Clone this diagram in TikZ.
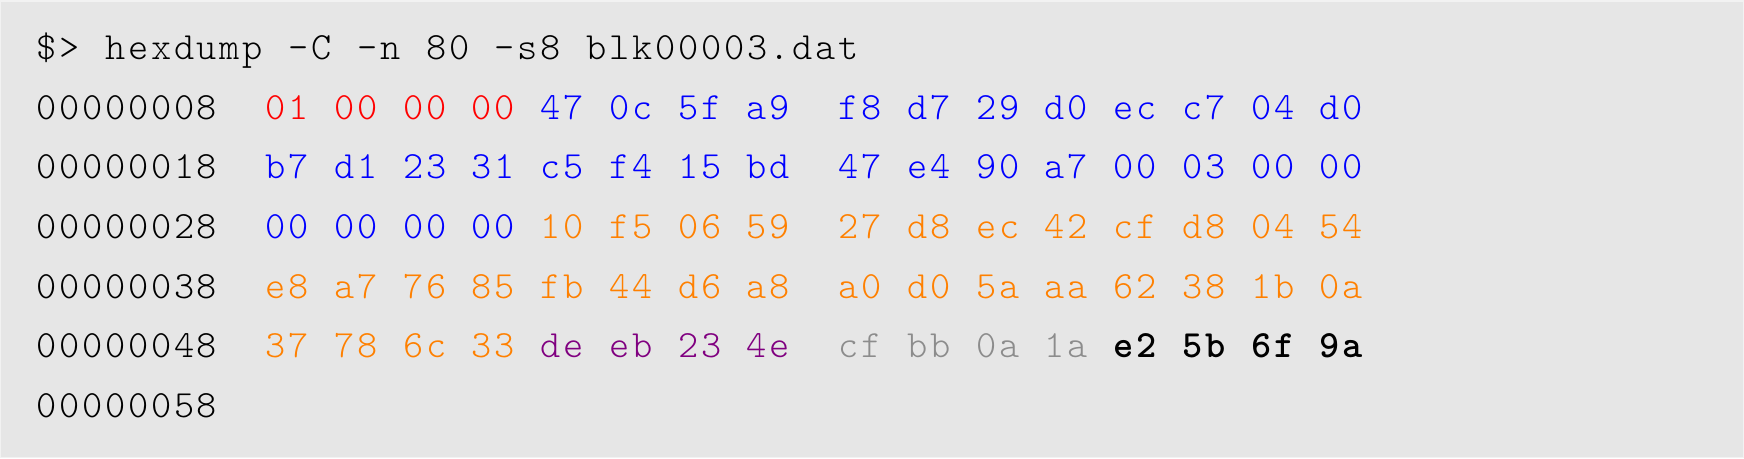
\documentclass[tikz,border=0pt]{standalone}
\usepackage{fontspec}
\setmonofont{Latin Modern Mono Light}
\definecolor{bgc}{HTML}{E6E6E6}
\definecolor{edgec}{HTML}{F2F2F2}
\definecolor{hred}{HTML}{FF0000}
\definecolor{hblue}{HTML}{0000FF}
\definecolor{horange}{HTML}{FF8000}
\definecolor{hpurple}{HTML}{800080}
\definecolor{hgray}{HTML}{8C8C8C}
\newlength\cw
\setlength\cw{22.94pt}
\newcommand\onecell[1]{\makebox[\cw][c]{#1}}
\def\cellsA#1{\ifx#1\relax\else\ifx#1|\hspace*{\cw}\else\onecell{#1}\fi\expandafter\cellsA\fi}
\newcommand\cells[1]{\cellsA#1\relax}
\tikzset{
  dumpline/.style={anchor=base west, inner sep=0pt, outer sep=0pt,
    font=\ttfamily\fontsize{38.5}{44}\selectfont, text=black}
}
\begin{document}
\begin{tikzpicture}[x=1pt,y=-1pt]
\path[fill=bgc, draw=edgec, line width=1.5pt] (0,0) rectangle (1744,457);
\useasboundingbox (0,0) rectangle (1744,457);
\node[dumpline] (cmd) at (34.4,59) {\cells{\$>|hexdump|-C|-n|80|-s8|blk00003.dat}};
\node[dumpline] (r1) at (34.4,118.7) {\cells{00000008||}{\color{hred}\cells{01|00|00|00|}}{\color{hblue}\cells{47|0c|5f|a9||f8|d7|29|d0|ec|c7|04|d0}}};
\node[dumpline] (r2) at (34.4,178.3) {\cells{00000018||}{\color{hblue}\cells{b7|d1|23|31|c5|f4|15|bd||47|e4|90|a7|00|03|00|00}}};
\node[dumpline] (r3) at (34.4,238) {\cells{00000028||}{\color{hblue}\cells{00|00|00|00|}}{\color{horange}\cells{10|f5|06|59||27|d8|ec|42|cf|d8|04|54}}};
\node[dumpline] (r4) at (34.4,297.7) {\cells{00000038||}{\color{horange}\cells{e8|a7|76|85|fb|44|d6|a8||a0|d0|5a|aa|62|38|1b|0a}}};
\node[dumpline] (r5) at (34.4,357.3) {\cells{00000048||}{\color{horange}\cells{37|78|6c|33|}}{\color{hpurple}\cells{de|eb|23|4e||}}{\color{hgray}\cells{cf|bb|0a|1a|}}{\bfseries\cells{e2|5b|6f|9a}}};
\node[dumpline] (r6) at (34.4,417) {\cells{00000058}};
\end{tikzpicture}
\end{document}
